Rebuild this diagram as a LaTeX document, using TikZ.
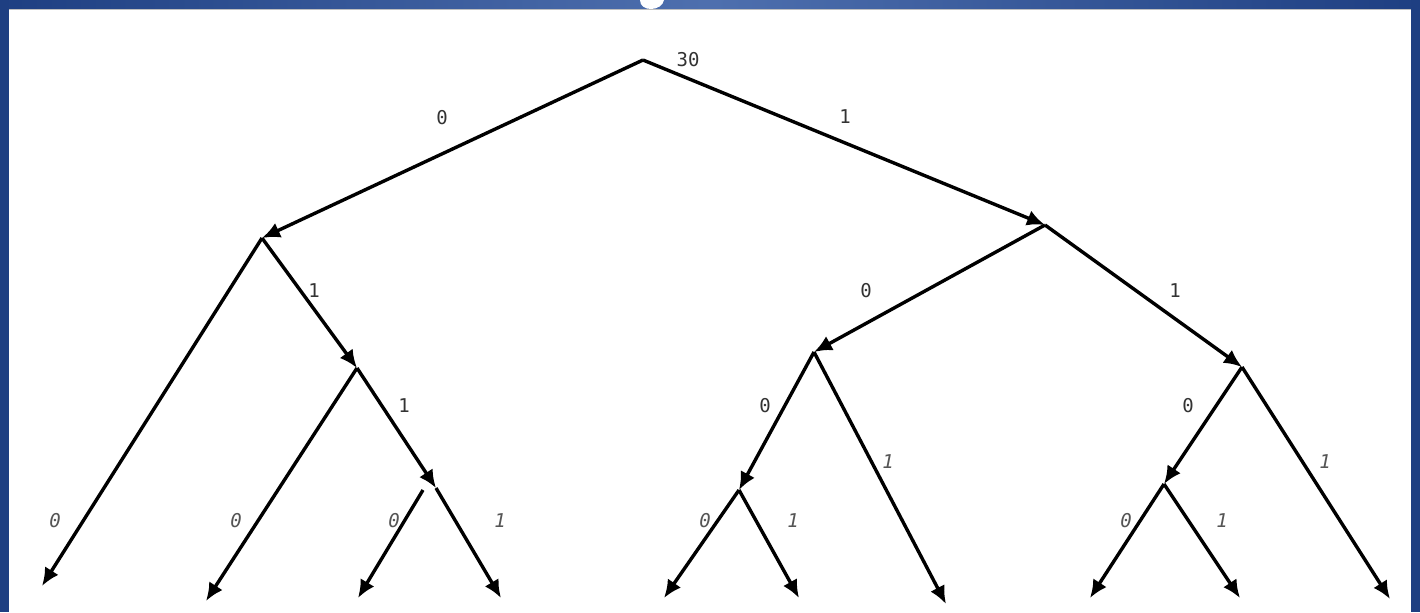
\documentclass[tikz,border=0pt]{standalone}
\usepackage{fontspec}
\setmainfont{DejaVu Sans Mono}
\usetikzlibrary{arrows.meta}
\definecolor{frameblue}{HTML}{2F56A0}
\definecolor{frameedge}{HTML}{1E3F82}
\definecolor{lblgray}{HTML}{555555}
\tikzset{
  edge/.style={line width=1.7pt, -{Latex[length=9pt,width=8pt]}},
  toplbl/.style={font=\fontsize{9.5}{10}\selectfont, text=black!80},
  lowlbl/.style={font=\fontsize{9.5}{10}\selectfont\itshape, text=lblgray},
}
\begin{document}
\begin{tikzpicture}[x=0.5pt,y=-0.5pt]
\useasboundingbox (0,0) rectangle (1420,612);
% frame
\shade[left color=frameedge, right color=frameedge, middle color=frameblue!85!white] (0,0) rectangle (1420,9);
\fill[frameedge] (0,0) rectangle (9,612);
\fill[frameedge] (1411,0) rectangle (1420,612);
\fill[white] (640,0) .. controls (640,6) and (645,9) .. (651,9) .. controls (658,9) and (663,5) .. (664,0) -- cycle;
\fill[white] (9,9) rectangle (1411,612);
\draw[gray!50, line width=0.6pt] (9,9.5) -- (1411,9.5);
% branch points
\coordinate (root) at (643,60);
\coordinate (L) at (262,238);
\coordinate (R) at (1045,225);
\coordinate (LL) at (42,586);
\coordinate (LR) at (357,368);
\coordinate (LRL) at (206,601);
\coordinate (LRR) at (436,488);
\coordinate (LRRs) at (423,490);
\coordinate (LRRL) at (358,598);
\coordinate (LRRR) at (501,598);
\coordinate (RL) at (814,352);
\coordinate (RR) at (1242,367);
\coordinate (RLL) at (739,490);
\coordinate (RLR) at (946,604);
\coordinate (RLLL) at (664,598);
\coordinate (RLLR) at (799,598);
\coordinate (RRL) at (1164,484);
\coordinate (RRR) at (1390,599);
\coordinate (RRLL) at (1090,598);
\coordinate (RRLR) at (1240,598);
% edges
\draw[edge] (root) -- (L);
\draw[edge] (root) -- (R);
\draw[edge] (L) -- (LL);
\draw[edge] (L) -- (LR);
\draw[edge] (LR) -- (LRL);
\draw[edge] (LR) -- (LRR);
\draw[edge] (LRRs) -- (LRRL);
\draw[edge] (LRR) -- (LRRR);
\draw[edge] (R) -- (RL);
\draw[edge] (R) -- (RR);
\draw[edge] (RL) -- (RLL);
\draw[edge] (RL) -- (RLR);
\draw[edge] (RLL) -- (RLLL);
\draw[edge] (RLL) -- (RLLR);
\draw[edge] (RR) -- (RRL);
\draw[edge] (RR) -- (RRR);
\draw[edge] (RRL) -- (RRLL);
\draw[edge] (RRL) -- (RRLR);
% labels
\node[toplbl] (t30) at (688,60) {30};
\node[toplbl] (t0a) at (442,118) {0};
\node[toplbl] (t1a) at (845,117) {1};
\node[toplbl] (t1b) at (314,291) {1};
\node[toplbl] (t1c) at (404,406) {1};
\node[toplbl] (t0b) at (866,291) {0};
\node[toplbl] (t1d) at (1175,291) {1};
\node[toplbl] (t0c) at (765,406) {0};
\node[toplbl] (t0d) at (1188,406) {0};
\node[lowlbl] (b1) at (55,521) {0};
\node[lowlbl] (b2) at (236,521) {0};
\node[lowlbl] (b3) at (394,521) {0};
\node[lowlbl] (b4) at (500,521) {1};
\node[lowlbl] (b5) at (888,462) {1};
\node[lowlbl] (b6) at (705,521) {0};
\node[lowlbl] (b7) at (793,521) {1};
\node[lowlbl] (b8) at (1325,462) {1};
\node[lowlbl] (b9) at (1126,521) {0};
\node[lowlbl] (b10) at (1222,521) {1};
\end{tikzpicture}
\end{document}
